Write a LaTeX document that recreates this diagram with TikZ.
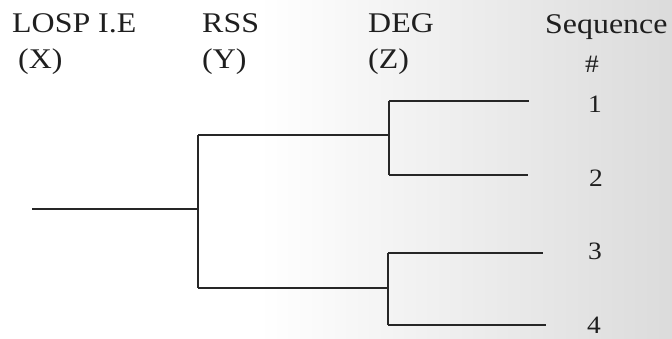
\documentclass[tikz,border=0pt]{standalone}
\usepackage{fontspec}
\setmainfont{Liberation Serif}
\begin{document}
\begin{tikzpicture}[x=1pt,y=-1pt,
  branch/.style={draw=black!85, line width=1.9pt},
  head/.style={anchor=base west, inner sep=0pt, text=black!88, font=\fontsize{28.5}{30}\selectfont, xscale=1.12},
  seq/.style={anchor=base, inner sep=0pt, text=black!88, font=\fontsize{25}{27}\selectfont, xscale=1.1}]
\useasboundingbox (0,0) rectangle (672,338);
\fill[white] (0,0) rectangle (260,338);
\shade[left color=white, right color=black!14, draw=none] (259,0) rectangle (672,338);
% headers
\node[head] (hx) at (12,32) {LOSP I.E};
\node[head] (hxs) at (18,68) {(X)};
\node[head] (hy) at (202,32) {RSS};
\node[head] (hys) at (202,68) {(Y)};
\node[head] (hz) at (368,32) {DEG};
\node[head] (hzs) at (368,68) {(Z)};
\node[head] (hs) at (545,33) {Sequence};
\node[seq] (hash) at (592,72) {\#};
\node[seq] (n1) at (595,112) {1};
\node[seq] (n2) at (596,186) {2};
\node[seq] (n3) at (595,259) {3};
\node[seq] (n4) at (594,333) {4};
% tree coordinates
\coordinate (root) at (32,209);
\coordinate (yj) at (198,209);
\coordinate (ytop) at (198,135);
\coordinate (ybot) at (198,288);
\coordinate (z1) at (389,135);
\coordinate (z1a) at (389,101);
\coordinate (z1b) at (389,175);
\coordinate (l1) at (529,101);
\coordinate (l2) at (528,175);
\coordinate (z2) at (388,288);
\coordinate (z2a) at (388,253);
\coordinate (z2b) at (388,325);
\coordinate (l3) at (543,253);
\coordinate (l4) at (546,325);
% tree
\draw[branch] (root) -- (yj);
\draw[branch] (ytop) -- (ybot);
\draw[branch] (ytop) -- (z1);
\draw[branch] (z1a) -- (z1b);
\draw[branch] (z1a) -- (l1);
\draw[branch] (z1b) -- (l2);
\draw[branch] (ybot) -- (z2);
\draw[branch] (z2a) -- (z2b);
\draw[branch] (z2a) -- (l3);
\draw[branch] (z2b) -- (l4);
\end{tikzpicture}
\end{document}
